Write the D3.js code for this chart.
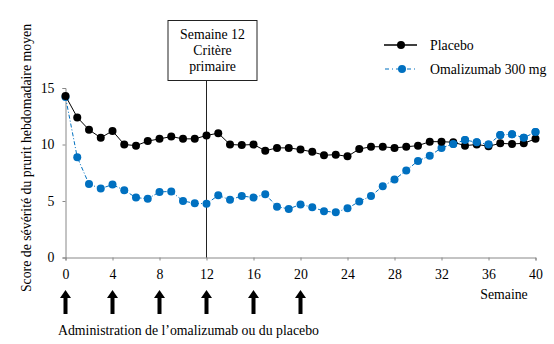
<!DOCTYPE html>
<html>
<head>
<meta charset="utf-8">
<script src="https://cdn.jsdelivr.net/npm/d3@7"></script>
<style>
  body { margin: 0; background: #fff; }
  text { font-family: "Liberation Serif", "Times New Roman", serif; fill: #000; }
</style>
</head>
<body>
<svg id="chart" width="554" height="344"></svg>
<script>
// Weeks 0..40
const weeks = d3.range(0, 41);

// Placebo series
const placebo = [14.3, 12.4, 11.3, 10.6, 11.2, 10.0, 9.9, 10.3, 10.5, 10.7,
                 10.5, 10.5, 10.8, 11.0, 10.0, 9.95, 10.0, 9.45, 9.7, 9.7,
                 9.55, 9.35, 9.05, 9.1, 8.95, 9.6, 9.8, 9.8, 9.7, 9.8,
                 9.9, 10.25, 10.25, 10.2, 9.9, 10.0, 9.85, 10.1, 10.05, 10.1, 10.5];

// Omalizumab 300 mg series
const omalizumab = [14.2, 8.87, 6.5, 6.1, 6.45, 5.95, 5.3, 5.2, 5.8, 5.85,
                    5.0, 4.8, 4.75, 5.5, 5.1, 5.45, 5.3, 5.6, 4.5, 4.3,
                    4.7, 4.45, 4.1, 4.0, 4.35, 4.95, 5.45, 6.3, 6.9, 7.7,
                    8.55, 9.0, 9.7, 10.05, 10.4, 10.2, 10.0, 10.85, 10.9, 10.6, 11.1];

const xTicks = [0, 4, 8, 12, 16, 20, 24, 28, 32, 36, 40];
const yTicks = [0, 5, 10, 15];
const doseWeeks = [0, 4, 8, 12, 16, 20];

const svg = d3.select("#chart");
const blue = "#0070C0";
const fs = "13.8px";

const x = d3.scaleLinear().domain([0, 40]).range([65.5, 535.5]);
const y = d3.scaleLinear().domain([0, 15]).range([257.5, 88]);

// Axes
const xAxis = svg.append("g")
    .attr("transform", `translate(0,${y(0)})`)
    .call(d3.axisBottom(x).tickValues(xTicks).tickSize(3).tickPadding(9));
const yAxis = svg.append("g")
    .attr("transform", `translate(${x(0)},0)`)
    .call(d3.axisLeft(y).tickValues(yTicks).tickSize(3).tickPadding(8));

[xAxis, yAxis].forEach(g => {
    g.attr("font-family", "Liberation Serif, serif").attr("font-size", 13.8);
    g.select(".domain").attr("stroke", "#888");
    g.selectAll(".tick line").attr("stroke", "#888");
    g.selectAll(".tick text").attr("fill", "#000");
});

// Week 12 marker line and box
svg.append("line")
    .attr("x1", x(12)).attr("x2", x(12))
    .attr("y1", 80).attr("y2", y(0))
    .attr("stroke", "#222").attr("stroke-width", 1);

svg.append("rect")
    .attr("x", 168).attr("y", 20.5)
    .attr("width", 89).attr("height", 60)
    .attr("fill", "#fff").attr("stroke", "#222").attr("stroke-width", 1);

["Semaine 12", "Critère", "primaire"].forEach((t, i) => {
    svg.append("text")
        .attr("x", 212.5).attr("y", 39 + i * 16)
        .attr("text-anchor", "middle")
        .style("font-size", fs)
        .text(t);
});

// Lines
const line = d3.line().x((d, i) => x(weeks[i])).y(d => y(d));

svg.append("path")
    .datum(omalizumab)
    .attr("d", line)
    .attr("fill", "none")
    .attr("stroke", blue)
    .attr("stroke-width", 1)
    .attr("stroke-dasharray", "4,2,1,2");

svg.selectAll(".dot-o")
    .data(omalizumab)
    .enter().append("circle")
    .attr("class", "dot-o")
    .attr("cx", (d, i) => x(weeks[i]))
    .attr("cy", d => y(d))
    .attr("r", 4)
    .attr("fill", blue);

svg.append("path")
    .datum(placebo)
    .attr("d", line)
    .attr("fill", "none")
    .attr("stroke", "#000")
    .attr("stroke-width", 1);

svg.selectAll(".dot-p")
    .data(placebo)
    .enter().append("circle")
    .attr("class", "dot-p")
    .attr("cx", (d, i) => x(weeks[i]))
    .attr("cy", d => y(d))
    .attr("r", 4)
    .attr("fill", "#000");

// Redraw the later omalizumab points that sit on top of placebo
svg.selectAll(".dot-o2")
    .data(omalizumab.slice(33))
    .enter().append("circle")
    .attr("cx", (d, i) => x(weeks[i + 33]))
    .attr("cy", d => y(d))
    .attr("r", 4)
    .attr("fill", blue);

// Legend
svg.append("line")
    .attr("x1", 384).attr("x2", 417).attr("y1", 45).attr("y2", 45)
    .attr("stroke", "#000").attr("stroke-width", 1.5);
svg.append("circle").attr("cx", 401).attr("cy", 45).attr("r", 4).attr("fill", "#000");
svg.append("text").attr("x", 430).attr("y", 50).style("font-size", fs).text("Placebo");

svg.append("line")
    .attr("x1", 385).attr("x2", 417).attr("y1", 69).attr("y2", 69)
    .attr("stroke", blue).attr("stroke-width", 1.2)
    .attr("stroke-dasharray", "4,3,1,3");
svg.append("circle").attr("cx", 402).attr("cy", 69).attr("r", 4).attr("fill", blue);
svg.append("text").attr("x", 430).attr("y", 74).style("font-size", fs).text("Omalizumab 300 mg");

// Axis titles
svg.append("text")
    .attr("transform", `translate(31,158) rotate(-90)`)
    .attr("text-anchor", "middle")
    .style("font-size", fs)
    .text("Score de sévérité du prurit hebdomadaire moyen");

svg.append("text")
    .attr("x", 504).attr("y", 299)
    .attr("text-anchor", "middle")
    .style("font-size", fs)
    .text("Semaine");

// Dose arrows
svg.selectAll(".arrow")
    .data(doseWeeks)
    .enter().append("path")
    .attr("class", "arrow")
    .attr("d", d => {
        const cx = x(d);
        return `M${cx - 2},314 L${cx - 2},298 L${cx - 5.5},298 L${cx},290 L${cx + 5.5},298 L${cx + 2},298 L${cx + 2},314 Z`;
    })
    .attr("fill", "#000");

svg.append("text")
    .attr("x", 58).attr("y", 335)
    .style("font-size", fs)
    .text("Administration de l’omalizumab ou du placebo");
</script>
</body>
</html>
